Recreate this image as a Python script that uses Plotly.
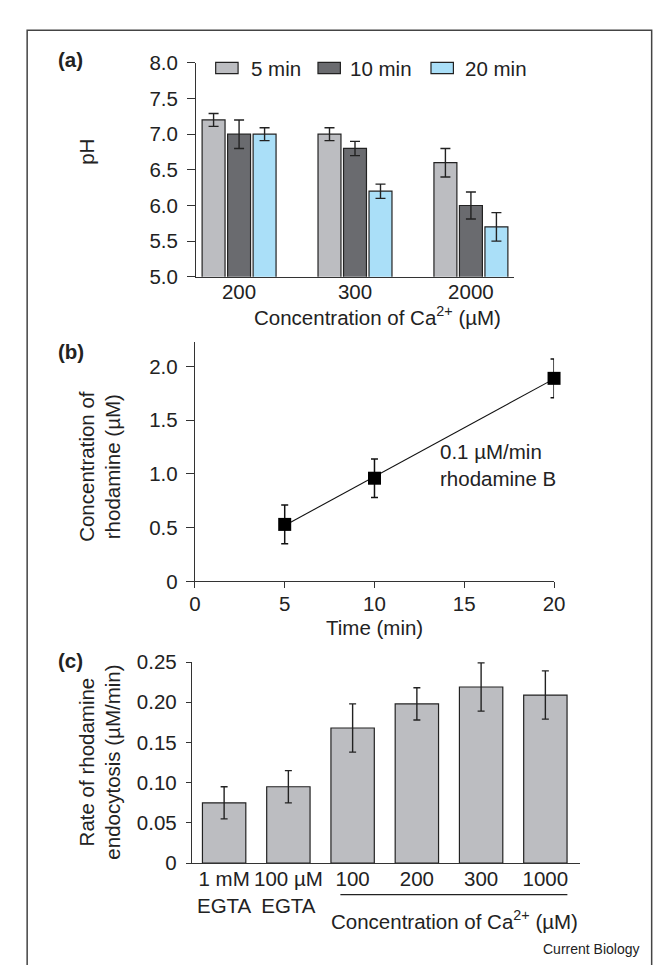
import numpy as np
import plotly.graph_objects as go

W, H = 661, 967

# ---------------- data ----------------
# panel (a)
ca_groups_a = ["200", "300", "2000"]
ph_5min = [7.2, 7.0, 6.6]
ph_5min_err = [0.09, 0.09, 0.2]
ph_10min = [7.0, 6.8, 6.0]
ph_10min_err = [0.2, 0.1, 0.19]
ph_20min = [7.0, 6.2, 5.7]
ph_20min_err = [0.09, 0.1, 0.2]
series_names_a = ["5 min", "10 min", "20 min"]
ph_ticks = [5.0, 5.5, 6.0, 6.5, 7.0, 7.5, 8.0]

# panel (b)
time_min = [5, 10, 20]
rhod_conc = [0.53, 0.96, 1.89]
rhod_conc_err = [0.18, 0.18, 0.18]
time_ticks = [0, 5, 10, 15, 20]
conc_ticks = [0, 0.5, 1.0, 1.5, 2.0]
conc_tick_labels = ["0", "0.5", "1.0", "1.5", "2.0"]

# panel (c)
cond_labels_c = ["1 mM<br>EGTA", "100 µM<br>EGTA", "100", "200", "300", "1000"]
rate_vals = [0.075, 0.095, 0.168, 0.198, 0.219, 0.209]
rate_err = [0.02, 0.02, 0.03, 0.02, 0.03, 0.03]
rate_ticks = [0, 0.05, 0.10, 0.15, 0.20, 0.25]
rate_tick_labels = ["0", "0.05", "0.10", "0.15", "0.20", "0.25"]

# ---------------- helpers ----------------
def fx(px):
    return px / W

def fy(py):
    return 1 - py / H

FONT = "Liberation Sans, Arial, Helvetica, sans-serif"
FS = 20.5
TXT = "#222222"
AX = "#333333"
C5, C10, C20 = "#bcbdc1", "#6a6b6f", "#aadff8"

fig = go.Figure()

xa = list(range(len(ca_groups_a)))
for name, vals, errs, col in [
    (series_names_a[0], ph_5min, ph_5min_err, C5),
    (series_names_a[1], ph_10min, ph_10min_err, C10),
    (series_names_a[2], ph_20min, ph_20min_err, C20),
]:
    fig.add_trace(go.Bar(
        x=xa, y=vals, name=name, xaxis="x", yaxis="y", showlegend=False,
        marker=dict(color=col, line=dict(color="#222", width=1.2)),
        error_y=dict(type="data", array=errs, color="#222", thickness=1.4, width=5),
    ))

# panel (b)
slope, intercept = np.polyfit(time_min, rhod_conc, 1)
fit_x = [min(time_min), max(time_min)]
fit_y = [slope * v + intercept for v in fit_x]
fig.add_trace(go.Scatter(
    x=fit_x, y=fit_y, mode="lines", xaxis="x2", yaxis="y2", showlegend=False,
    line=dict(color="#111", width=1.1), cliponaxis=False,
))
fig.add_trace(go.Scatter(
    x=time_min, y=rhod_conc, mode="markers", xaxis="x2", yaxis="y2", showlegend=False,
    marker=dict(symbol="square", size=13, color="#000"), cliponaxis=False,
    error_y=dict(type="data", array=rhod_conc_err, color="#111", thickness=1.5, width=3.5),
))

# panel (c)
fig.add_trace(go.Bar(
    x=list(range(len(cond_labels_c))), y=rate_vals, xaxis="x3", yaxis="y3", showlegend=False,
    width=0.675,
    marker=dict(color=C5, line=dict(color="#222", width=1.2)),
    error_y=dict(type="data", array=rate_err, color="#222", thickness=1.4, width=3.5),
))

axis_common = dict(showgrid=False, zeroline=False, showline=True, linecolor=AX,
                   linewidth=1.3, tickcolor=AX, tickwidth=1.3, tickangle=0,
                   tickfont=dict(family=FONT, size=FS, color=TXT))

fig.update_layout(
    width=W, height=H, margin=dict(l=0, r=0, t=0, b=0, pad=0),
    paper_bgcolor="white", plot_bgcolor="white",
    font=dict(family=FONT, size=FS, color=TXT),
    barmode="group", bargap=0.34, bargroupgap=0.1,
    xaxis=dict(domain=[fx(187), fx(513)], range=[-0.37, 2.37], anchor="y",
               tickvals=xa, ticktext=ca_groups_a, ticks="", ticklen=0,
               ticklabelstandoff=-3, **axis_common),
    yaxis=dict(domain=[fy(263), fy(44)], range=[5, 8], anchor="x",
               tickvals=ph_ticks, ticktext=[f"{t:.1f}" for t in ph_ticks],
               ticks="outside", ticklen=8, ticklabelstandoff=5, **axis_common),
    xaxis2=dict(domain=[fx(185.7), fx(554.3)], range=[0, 20], anchor="y2",
                tickvals=time_ticks, ticks="outside", ticklen=6,
                ticklabelstandoff=-2, **axis_common),
    yaxis2=dict(domain=[fy(575), fy(330)], range=[0, 2.227], anchor="x2",
                tickvals=conc_ticks, ticktext=conc_tick_labels,
                ticks="outside", ticklen=8, ticklabelstandoff=4, **axis_common),
    xaxis3=dict(domain=[fx(182.7), fx(581)], range=[-0.5, 5.54], anchor="y3",
                tickvals=list(range(len(cond_labels_c))), ticktext=cond_labels_c,
                ticks="", ticklen=0, ticklabelstandoff=-3, **axis_common),
    yaxis3=dict(domain=[fy(863.7), fy(657.7)], range=[0, 0.25], anchor="x3",
                tickvals=rate_ticks, ticktext=rate_tick_labels,
                ticks="outside", ticklen=5, ticklabelstandoff=5, **axis_common),
)

shapes = []
annotations = []

def ann(text, x, y, xanchor="center", yanchor="middle", size=FS, angle=0, bold=False, align="center"):
    annotations.append(dict(
        text=f"<b>{text}</b>" if bold else text, x=fx(x), y=fy(y), xref="paper", yref="paper",
        xanchor=xanchor, yanchor=yanchor, showarrow=False, textangle=angle, align=align,
        font=dict(family=FONT, size=size, color=TXT),
    ))

# frame (open at the bottom, as in the reference)
shapes.append(dict(type="path", xref="paper", yref="paper",
                   path=f"M {fx(13.5)} {fy(968)} L {fx(13.5)} {fy(10.5)} L {fx(654.5)} {fy(10.5)} L {fx(654.5)} {fy(968)}",
                   line=dict(color="#444", width=1.5)))

# legend for (a)
for (x0, tx, label, col) in [(207, 241, series_names_a[0], C5),
                             (312, 343, series_names_a[1], C10),
                             (428, 461, series_names_a[2], C20)]:
    shapes.append(dict(type="rect", xref="paper", yref="paper", x0=fx(x0), x1=fx(x0 + 23),
                       y0=fy(55), y1=fy(43.5), fillcolor=col, line=dict(color="#222", width=1.2)))
    ann(label, tx, 50, xanchor="left")

# panel labels
ann("(a)", 43, 40, xanchor="left", bold=True)
ann("(b)", 43, 340, xanchor="left", bold=True)
ann("(c)", 43, 656, xanchor="left", bold=True)

# axis titles
ann("pH", 75, 135, angle=-90)
ann("Concentration of Ca<sup>2+</sup> (µM)", 373, 303)
ann("Concentration of<br>rhodamine (µM)", 88, 457, angle=-90)
ann("Time (min)", 370, 622)
ann("0.1 µM/min<br>rhodamine B", 435, 456, xanchor="left", align="left")
ann("Rate of rhodamine<br>endocytosis (µM/min)", 88, 760, angle=-90)
ann("Concentration of Ca<sup>2+</sup> (µM)", 452, 922)
ann("Current Biology", 645, 952, xanchor="right", size=14)

# bracket line under Ca2+ concentrations in (c)
shapes.append(dict(type="line", xref="paper", yref="paper", x0=fx(335), x1=fx(568),
                   y0=fy(896), y1=fy(896), line=dict(color="#222", width=1.3)))

fig.update_layout(shapes=shapes, annotations=annotations)

fig.write_html("out.html")
